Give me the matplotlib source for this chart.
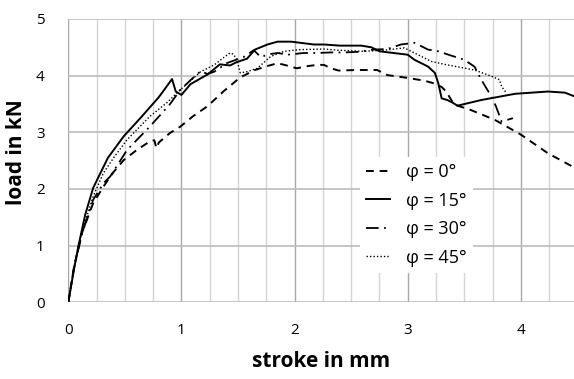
import matplotlib
matplotlib.use("Agg")
import matplotlib.pyplot as plt
from matplotlib.ticker import MultipleLocator

plt.rcParams['font.family'] = ['Open Sans', 'DejaVu Sans']

# phi = 0 deg (dashed)
x0 = [0, 0.05, 0.12, 0.22, 0.31, 0.40, 0.49, 0.60, 0.72, 0.76, 0.78, 0.80, 0.90, 0.99, 1.10, 1.23,
      1.37, 1.52, 1.65, 1.76, 1.85, 1.93, 2.02, 2.12, 2.20, 2.26, 2.32, 2.39, 2.55, 2.73, 2.82, 3.0,
      3.15, 3.24, 3.30, 3.34, 3.41, 3.55, 3.77, 4.0, 4.24, 4.48]
y0 = [0, 0.62, 1.22, 1.75, 2.04, 2.30, 2.51, 2.68, 2.84, 2.86, 2.72, 2.82, 2.99, 3.10, 3.28, 3.46,
      3.72, 3.97, 4.10, 4.17, 4.22, 4.18, 4.13, 4.17, 4.19, 4.19, 4.13, 4.09, 4.10, 4.10, 4.01, 3.96,
      3.91, 3.86, 3.80, 3.72, 3.49, 3.40, 3.22, 2.96, 2.63, 2.37]

# phi = 15 deg (solid)
x1 = [0, 0.05, 0.09, 0.15, 0.22, 0.35, 0.49, 0.65, 0.80, 0.917, 0.95, 1.0, 1.08, 1.23, 1.34, 1.43,
      1.49, 1.58, 1.65, 1.76, 1.85, 1.97, 2.05, 2.17, 2.26, 2.40, 2.59, 2.68, 2.75, 3.0, 3.06, 3.18,
      3.24, 3.27, 3.30, 3.35, 3.40, 3.44, 3.65, 3.95, 4.24, 4.39, 4.48]
y1 = [0, 0.58, 1.0, 1.55, 2.02, 2.55, 2.93, 3.28, 3.62, 3.94, 3.72, 3.66, 3.85, 4.02, 4.20, 4.18,
      4.24, 4.30, 4.46, 4.55, 4.60, 4.60, 4.58, 4.55, 4.55, 4.53, 4.53, 4.50, 4.43, 4.37, 4.28, 4.16,
      4.05, 3.87, 3.60, 3.57, 3.52, 3.47, 3.57, 3.68, 3.72, 3.70, 3.63]

# phi = 30 deg (dash-dot)
x2 = [0, 0.05, 0.12, 0.22, 0.31, 0.37, 0.52, 0.72, 0.90, 0.99, 1.08, 1.17, 1.23, 1.29, 1.40, 1.55,
      1.64, 1.70, 1.78, 1.85, 1.94, 2.08, 2.20, 2.32, 2.44, 2.56, 2.70, 2.82, 2.94, 2.98, 3.06, 3.18,
      3.27, 3.36, 3.50, 3.59, 3.65, 3.74, 3.78, 3.83, 3.93]
y2 = [0, 0.60, 1.20, 1.81, 2.10, 2.22, 2.69, 3.10, 3.50, 3.75, 3.92, 4.08, 4.03, 4.07, 4.22, 4.33,
      4.45, 4.33, 4.38, 4.40, 4.37, 4.40, 4.40, 4.41, 4.41, 4.42, 4.46, 4.47, 4.55, 4.56, 4.58, 4.46,
      4.43, 4.37, 4.28, 4.16, 3.93, 3.63, 3.46, 3.19, 3.25]

# phi = 45 deg (dotted)
x3 = [0, 0.05, 0.12, 0.22, 0.31, 0.40, 0.52, 0.72, 0.87, 0.99, 1.17, 1.29, 1.38, 1.43, 1.46, 1.49,
      1.52, 1.58, 1.67, 1.79, 1.91, 2.05, 2.26, 2.38, 2.61, 2.80, 2.97, 3.06, 3.21, 3.35, 3.59, 3.74,
      3.81, 3.83, 3.87]
y3 = [0, 0.62, 1.24, 1.87, 2.28, 2.55, 2.87, 3.28, 3.52, 3.75, 4.07, 4.19, 4.33, 4.40, 4.38, 4.28,
      4.05, 4.07, 4.13, 4.34, 4.43, 4.46, 4.47, 4.45, 4.43, 4.45, 4.49, 4.40, 4.25, 4.19, 4.10, 3.99,
      3.93, 3.81, 3.70]

labels = ['φ = 0°', 'φ = 15°', 'φ = 30°', 'φ = 45°']
xticks = [0, 1, 2, 3, 4]
yticks = [0, 1, 2, 3, 4, 5]

fig = plt.figure(figsize=(5.74, 3.79), dpi=100)
ax = fig.add_axes([68.3 / 574, 1 - 302.3 / 379, 1 - 68.3 / 574, (302.3 - 19) / 379])

ax.set_xlim(0, 4.47)
ax.set_ylim(0, 5)
ax.xaxis.set_major_locator(MultipleLocator(1))
ax.xaxis.set_minor_locator(MultipleLocator(0.25))
ax.set_xticks(xticks)
ax.set_yticks(yticks)
ax.grid(True, which='minor', axis='x', color='#d4d4d4', lw=1.0)
ax.grid(True, which='major', axis='x', color='#a8a8a8', lw=1.0)
ax.grid(True, which='major', axis='y', color='#bcbcbc', lw=1.2)
ax.set_axisbelow(True)
for s in ax.spines.values():
    s.set_visible(False)
ax.tick_params(which='both', length=0)
ax.tick_params(axis='x', pad=15, labelsize=11)
ax.tick_params(axis='y', pad=17, labelsize=11)

ax.plot(x0, y0, color='black', lw=1.4, dashes=(4, 3), label=labels[0])
ax.plot(x1, y1, color='black', lw=1.4, label=labels[1])
ax.plot(x2, y2, color='black', lw=1.3, dashes=(7, 3, 1, 3), label=labels[2])
ax.plot(x3, y3, color='black', lw=1.0, dashes=(1, 1.5), label=labels[3])

leg = ax.legend(loc='upper left', bbox_to_anchor=((360 - 68.3) / 505.7, (302.3 - 157) / 283.3),
                frameon=True, fontsize=13, handlelength=1.3, handletextpad=0.9,
                labelspacing=0.58, borderpad=0.35, borderaxespad=0)
leg.get_frame().set_facecolor('white')
leg.get_frame().set_edgecolor('none')
leg.get_frame().set_alpha(1)

ax.set_xlabel('stroke in mm', fontsize=15, fontweight='bold', labelpad=9)
ax.set_ylabel('load in kN', fontsize=15, fontweight='bold', va='center')
ax.yaxis.set_label_coords((17 - 68.3) / 505.7, 0.53)

fig.savefig('out.png', dpi=100)
